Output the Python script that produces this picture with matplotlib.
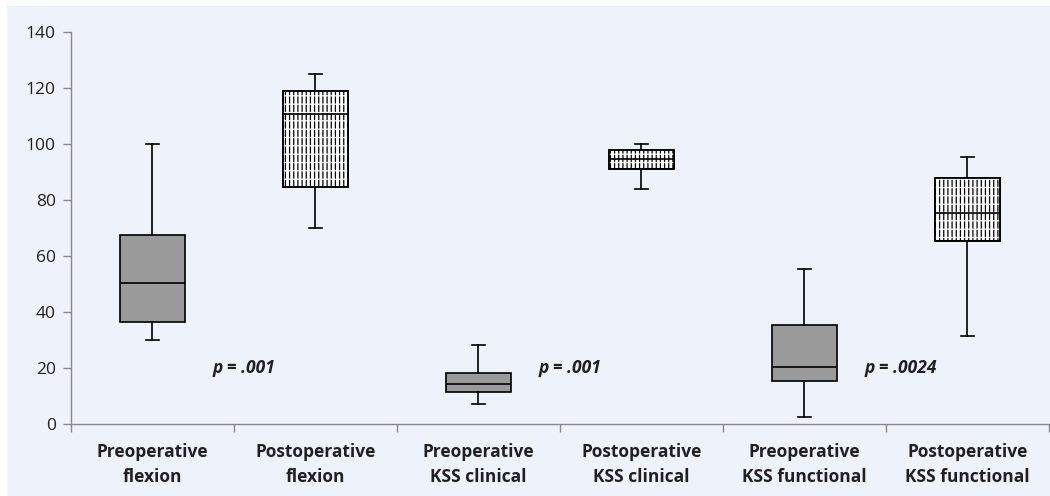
import matplotlib.pyplot as plt
from matplotlib.patches import Rectangle

categories = ['Preoperative\nflexion', 'Postoperative\nflexion',
              'Preoperative\nKSS clinical', 'Postoperative\nKSS clinical',
              'Preoperative\nKSS functional', 'Postoperative\nKSS functional']
whislo = [30, 70, 7, 84, 2.3, 31.3]
q1 = [36.4, 84.6, 11.3, 90.8, 15.4, 65.2]
med = [50.2, 110.6, 14.3, 94.5, 20.4, 75.4]
q3 = [67.4, 118.9, 18.0, 97.9, 35.4, 87.6]
whishi = [100, 125, 28.1, 100, 55.2, 95.2]
p_labels = ['p = .001', 'p = .001', 'p = .0024']
p_pos = [0, 2, 4]
p_y = [20, 20, 20]

bg = '#eef2fb'
plt.rcParams['font.family'] = ['Open Sans', 'DejaVu Sans']
plt.rcParams['hatch.linewidth'] = 0.9

fig = plt.figure(figsize=(10.5, 4.96), dpi=100)
fig.patches.append(Rectangle((7/1050, 0), 1, 1 - 6/496, transform=fig.transFigure,
                             facecolor=bg, edgecolor='none', zorder=-10))
ax = fig.add_axes([71/1050, 1 - 423.7/496, 1 - 71/1050 - 0.001, 392/496])
ax.set_facecolor('none')

stats = []
for i in range(len(categories)):
    stats.append({'whislo': whislo[i], 'q1': q1[i], 'med': med[i],
                  'q3': q3[i], 'whishi': whishi[i], 'fliers': []})

w = 0.4
lw = 1.2
bp = ax.bxp(stats, positions=range(len(categories)), widths=w, patch_artist=True,
            showfliers=False, capwidths=0.08,
            boxprops=dict(facecolor='#9a9a9a', edgecolor='black', linewidth=lw),
            medianprops=dict(color='black', linewidth=lw, zorder=5),
            whiskerprops=dict(color='black', linewidth=lw),
            capprops=dict(color='black', linewidth=lw))

for i, box in enumerate(bp['boxes']):
    if i % 2 == 1:
        box.set_facecolor('white')
        box.set_hatch('||||')
        # break the vertical lines into dashes
        ax.add_patch(Rectangle((i - w/2, q1[i]), w, q3[i] - q1[i], facecolor='none',
                               edgecolor='white', linewidth=0, hatch='--', zorder=3))
        ax.add_patch(Rectangle((i - w/2, q1[i]), w, q3[i] - q1[i], facecolor='none',
                               edgecolor='black', linewidth=lw, zorder=4))

for lab, pos, yv in zip(p_labels, p_pos, p_y):
    ax.text(pos + 0.37, yv, lab, fontsize=12.5, fontweight='bold', style='italic',
            color='#231f20', va='center', ha='left')

ax.set_xlim(-0.5, len(categories) - 0.5)
ax.set_ylim(0, 140)
ax.set_yticks(range(0, 141, 20))
ax.set_xticks([x + 0.5 for x in range(-1, len(categories))], minor=False)
ax.set_xticklabels([])
ax.set_xticks(range(len(categories)), minor=True)
ax.set_xticklabels(categories, minor=True, fontsize=12.5, fontweight='bold',
                   color='#231f20', linespacing=1.5)
ax.tick_params(axis='x', which='minor', length=0, pad=14)
ax.tick_params(axis='x', which='major', length=6, color='#888888', width=1)
ax.tick_params(axis='y', length=6, color='#888888', width=1, labelsize=12.5,
               labelcolor='#231f20', pad=5)
for s in ['top', 'right']:
    ax.spines[s].set_visible(False)
for s in ['left', 'bottom']:
    ax.spines[s].set_color('#888888')
    ax.spines[s].set_linewidth(1)

fig.savefig('out.png', dpi=100, facecolor='white')
